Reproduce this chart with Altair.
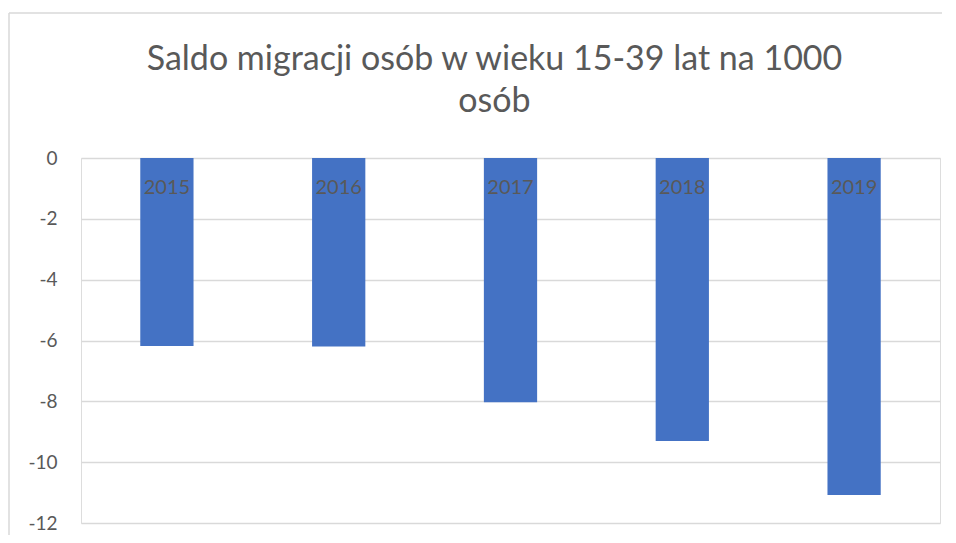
import altair as alt
import pandas as pd

years = ["2015", "2016", "2017", "2018", "2019"]
values = [-6.18, -6.2, -8.03, -9.3, -11.08]
y_ticks = [0, -2, -4, -6, -8, -10, -12]
title_lines = ["Saldo migracji osób w wieku 15-39 lat na 1000", "osób"]

df = pd.DataFrame({"year": years, "value": values})

FONT = "Lato"
GREY = "#595959"
BORDER = "#d9d9d9"

x_enc = alt.X("year:N", sort=years, axis=None,
              scale=alt.Scale(paddingInner=0.69, paddingOuter=0.345))
y_scale = alt.Scale(domain=[-12, 0], nice=False, zero=True)

bars = alt.Chart(df).mark_bar(color="#4472C4").encode(
    x=x_enc,
    y=alt.Y("value:Q", scale=y_scale, title=None,
            axis=alt.Axis(values=y_ticks, domain=False, ticks=False,
                          labelPadding=24, labelFontSize=19, labelColor=GREY,
                          labelFont=FONT, grid=True, gridColor=BORDER,
                          gridWidth=1.3, labelExpr="'' + datum.value")),
)

labels = alt.Chart(df).mark_text(
    font=FONT, fontSize=20, color=GREY, baseline="middle", dy=30
).encode(
    x=x_enc,
    y=alt.Y("zero:Q", scale=y_scale),
    text="year:N",
).transform_calculate(zero="0")

one = alt.Chart(df).transform_filter(alt.datum.year == "2015")
top_border = one.mark_rule(stroke=BORDER, strokeWidth=1.5).encode(
    x=alt.value(-72), x2=alt.value(875), y=alt.value(-145), y2=alt.value(-145)
)
left_border = one.mark_rule(stroke=BORDER, strokeWidth=1.5).encode(
    x=alt.value(-72), x2=alt.value(-72), y=alt.value(-145), y2=alt.value(378)
)

chart = alt.layer(top_border, left_border, bars, labels).properties(
    width=859,
    height=365,
    autosize=alt.AutoSizeParams(type="none"),
    padding={"left": 73, "top": 150, "right": 2, "bottom": 12},
    title=alt.TitleParams(text=title_lines, font=FONT, fontSize=34,
                          fontWeight="normal", color=GREY, anchor="middle",
                          baseline="bottom", lineHeight=42, dx=-16, dy=141,
                          offset=0),
).configure_view(stroke=None, strokeWidth=0).configure(background="white")

chart.save("out.html", embed_options={"renderer": "svg", "actions": False})
